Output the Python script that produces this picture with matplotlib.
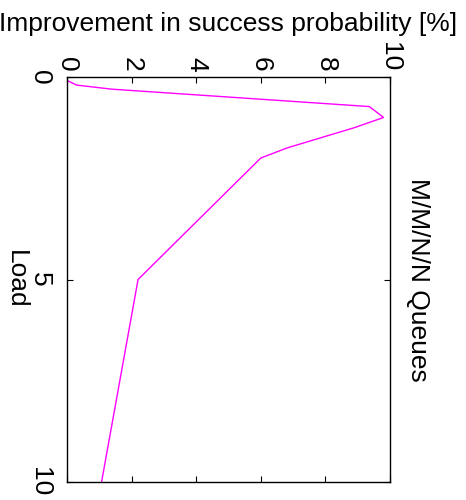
import matplotlib
matplotlib.use("Agg")
import matplotlib.pyplot as plt

# Success-probability improvement versus offered load (M/M/N/N queues)
load = [0.1, 0.2, 0.3, 0.73, 1.0, 1.25, 1.75, 2.0, 5.0, 10.0]
improvement = [0.04, 0.3, 1.38, 9.36, 9.8, 8.9, 6.82, 6.0, 2.2, 1.07]

improvement_ticks = [0, 2, 4, 6, 8, 10]
load_ticks = [0, 5, 10]

plt.rcParams["font.family"] = ["Liberation Sans", "DejaVu Sans"]
FS = 19

fig = plt.figure(figsize=(4.66, 5.0), dpi=100)
ax = fig.add_axes([67 / 466, 1 - 482 / 500, (390 - 67) / 466, (482 - 77) / 500])

# Plot is laid out turned by a quarter: improvement runs left-to-right,
# load runs top-to-bottom.
ax.plot(improvement, load, color="#ff00ff", linewidth=1.0)

ax.set_xlim(0, 10)
ax.set_ylim(10, 0)
ax.set_xticks(improvement_ticks)
ax.set_yticks(load_ticks)
ax.set_xticklabels([str(t) for t in improvement_ticks])
ax.set_yticklabels([str(t) for t in load_ticks])

for side in ax.spines.values():
    side.set_linewidth(1.0)

ax.tick_params(axis="both", which="both", direction="in", length=4, width=0.8,
               top=True, bottom=True, left=True, right=True,
               labelsize=FS, labelrotation=-90)
ax.tick_params(axis="x", labeltop=True, labelbottom=False, pad=4)
ax.tick_params(axis="y", labelleft=True, labelright=False, pad=11)
for lab in ax.get_yticklabels():
    lab.set_verticalalignment("center")

ax.set_ylabel("Load", fontsize=FS, rotation=-90, ha="center", va="center")
ax.yaxis.set_label_coords((16 - 67) / 323, 0.5)

ax.text((418 - 67) / 323, 0.5, "M/M/N/N Queues", transform=ax.transAxes,
        fontsize=FS, rotation=-90, ha="center", va="center")

fig.text(228.5 / 466, 1 - 24 / 500, "Improvement in success probability [%]",
         fontsize=FS, ha="center", va="center")

fig.savefig("out.png", dpi=100)
